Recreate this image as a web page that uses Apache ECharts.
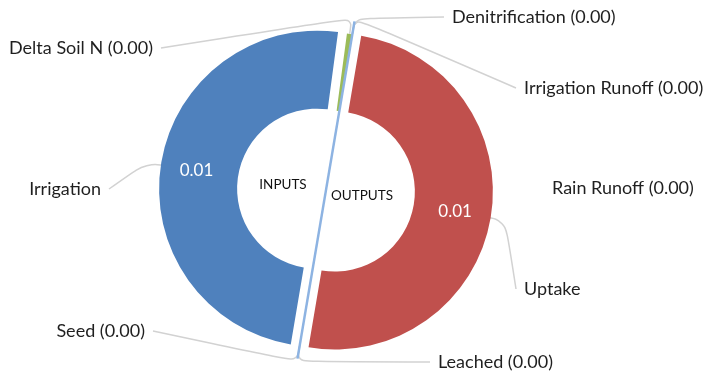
<!DOCTYPE html>
<html>
<head>
<meta charset="utf-8">
<script src="https://cdn.jsdelivr.net/npm/echarts@6/dist/echarts.min.js"></script>
<style>
  html, body { margin: 0; padding: 0; background: #fff; }
  #chart { width: 707px; height: 378px; }
</style>
</head>
<body>
<div id="chart"></div>
<script>
// Nitrogen balance: inputs on the left half, outputs on the right half
var outputNames = ["Denitrification", "Irrigation Runoff", "Rain Runoff", "Uptake", "Leached"];
var outputValues = [0, 0, 0, 0.01, 0];
var inputNames = ["Seed", "Irrigation", "Delta Soil N"];
var inputValues = [0, 0.00989, 0.00011];

var sliceColors = {
  "Irrigation": "#4f81bd",
  "Uptake": "#c0504d",
  "Delta Soil N": "#9bbb59"
};

// where Excel put each callout: [anchor x, anchor y, side]
var calloutSpots = {
  "Delta Soil N": [153, 48, "right"],
  "Irrigation": [101, 189, "right"],
  "Seed": [145, 331, "right"],
  "Leached": [438, 362, "left"],
  "Uptake": [524, 289, "left"],
  "Rain Runoff": [552, 188, "left"],
  "Irrigation Runoff": [524, 88, "left"],
  "Denitrification": [452, 17, "left"]
};

var CX = 326, CY = 190;
var splitDeg = 9.6; // clockwise from 12 o'clock
var fontFamily = "Lato, 'Liberation Sans', sans-serif";

var names = outputNames.concat(inputNames);
var values = outputValues.concat(inputValues);

function isBig(v) {
  return v >= 0.005;
}

var chart = echarts.init(document.getElementById("chart"), null, { renderer: "canvas" });

var common = {
  type: "pie",
  center: [CX, CY],
  radius: [80, 158],
  startAngle: 90 - splitDeg,
  clockwise: true,
  avoidLabelOverlap: false,
  animation: false,
  silent: true,
  emphasis: { disabled: true }
};

// transparent copy that only carries the outside callouts
var callouts = Object.assign({}, common, {
  name: "callouts",
  z: 1,
  data: names.map(function (n, i) {
    var item = { name: n, value: values[i], itemStyle: { color: "rgba(0,0,0,0)" } };
    if (n === "Rain Runoff") item.labelLine = { show: false };
    return item;
  }),
  label: {
    show: true,
    position: "outside",
    fontFamily: fontFamily,
    fontSize: 18,
    color: "#1f1f1f",
    formatter: function (p) {
      if (isBig(p.value)) return p.name;
      return p.name + " (" + p.value.toFixed(2) + ")";
    }
  },
  labelLine: {
    show: true,
    smooth: 0.35,
    lineStyle: { color: "#d2d2d2", width: 1.5 }
  },
  labelLayout: function (params) {
    var spot = calloutSpots[names[params.dataIndex]];
    if (!spot) return {};
    var out = {
      x: spot[0],
      y: spot[1],
      align: spot[2],
      verticalAlign: "middle"
    };
    var pts = params.labelLinePoints;
    if (pts) {
      var p0 = pts[0];
      var dx = p0[0] - CX, dy = p0[1] - CY;
      var len = Math.sqrt(dx * dx + dy * dy) || 1;
      var reach = isBig(values[params.dataIndex]) ? 24 : 16;
      var p1 = [p0[0] + dx / len * reach, p0[1] + dy / len * reach];
      var endX = spot[2] === "right" ? spot[0] + 8 : spot[0] - 8;
      out.labelLinePoints = [p0, p1, [endX, spot[1]]];
    }
    return out;
  }
});

// the visible doughnut, big slices pulled out a little
var ring = Object.assign({}, common, {
  name: "ring",
  z: 2,
  selectedMode: "multiple",
  selectedOffset: 9,
  data: names.map(function (n, i) {
    var big = isBig(values[i]);
    var item = {
      name: n,
      value: values[i],
      selected: big,
      itemStyle: { color: sliceColors[n] || "#8064a2" }
    };
    if (!big) item.label = { show: false };
    return item;
  }),
  label: {
    show: true,
    position: "inside",
    fontFamily: fontFamily,
    fontSize: 17,
    color: "#ffffff",
    formatter: function (p) {
      return p.value.toFixed(2);
    }
  },
  labelLine: { show: false }
});

// thin divider between inputs and outputs
var rad = splitDeg * Math.PI / 180;
var halfLen = 171;
var ux = Math.sin(rad), uy = -Math.cos(rad);

chart.setOption({
  backgroundColor: "#ffffff",
  textStyle: { fontFamily: fontFamily },
  graphic: {
    elements: [
      {
        type: "line",
        z: 10,
        shape: {
          x1: CX + ux * halfLen, y1: CY + uy * halfLen,
          x2: CX - ux * halfLen, y2: CY - uy * halfLen
        },
        style: { stroke: "#8db3e2", lineWidth: 2.5 }
      },
      {
        type: "text",
        z: 10,
        x: CX - 43, y: CY - 5,
        style: {
          text: "INPUTS", fontSize: 13.5, fontFamily: fontFamily,
          fill: "#111", align: "center", verticalAlign: "middle"
        }
      },
      {
        type: "text",
        z: 10,
        x: CX + 36, y: CY + 6,
        style: {
          text: "OUTPUTS", fontSize: 13.5, fontFamily: fontFamily,
          fill: "#111", align: "center", verticalAlign: "middle"
        }
      }
    ]
  },
  series: [callouts, ring]
});
</script>
</body>
</html>
